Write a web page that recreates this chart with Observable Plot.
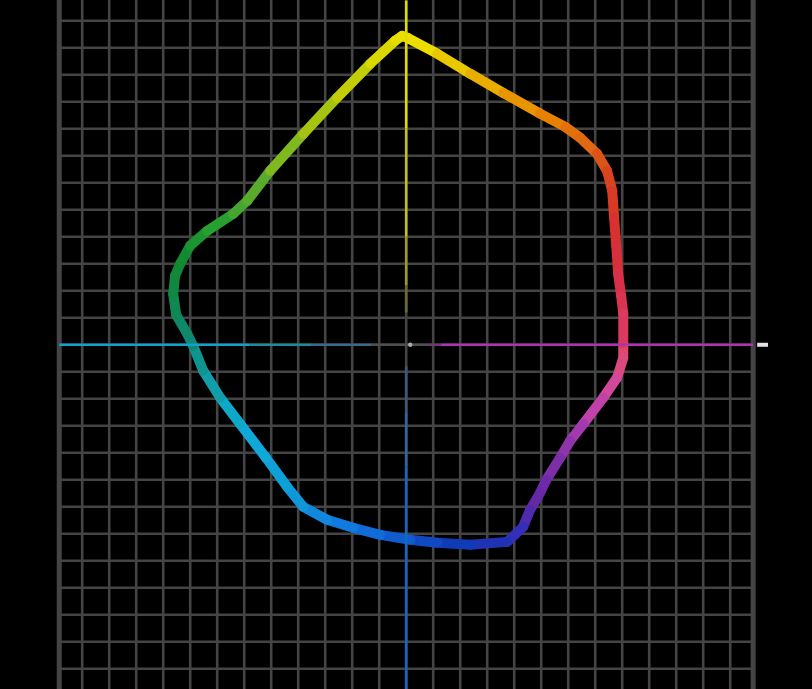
<!DOCTYPE html>
<html>
<head>
<meta charset="utf-8">
<script src="https://cdn.jsdelivr.net/npm/d3@7"></script>
<script src="https://cdn.jsdelivr.net/npm/@observablehq/plot@0.6"></script>
<style>
  html, body { margin: 0; padding: 0; background: #000; }
  #chart svg { display: block; }
</style>
</head>
<body>
<div id="chart"></div>
<script>
// Gamut boundary in the a*/b* plane
const loopA = [80.4, 80.4, 78.1, 73.0, 65.6, 60.7, 57.0, 51.9, 49.6, 45.9, 43.3, 37.4, 23.7, 11.5, 1.5, -9.6, -19.6, -29.3, -38.1, -44.1, -51.9, -61.5, -68.9, -75.2, -78.9, -81.1, -85.2, -86.3, -85.6, -83.7, -80.0, -73.7, -64.1, -58.9, -50.4, -38.1, -25.6, -13.3, -4.1, -1.5, 0.4, 11.5, 23.7, 35.9, 49.6, 58.9, 64.4, 70.7, 74.4, 76.3, 77.0, 77.8, 78.5, 79.6, 80.4];
const loopB = [0.4, -4.8, -12.2, -19.6, -29.3, -35.6, -41.9, -50.0, -54.8, -61.1, -67.4, -73.0, -74.1, -73.3, -72.2, -70.4, -67.8, -64.8, -60.0, -52.6, -41.9, -29.3, -19.6, -9.6, -0.4, 4.1, 11.1, 18.9, 25.6, 30.0, 36.7, 42.2, 48.5, 53.3, 64.4, 78.1, 91.5, 104.1, 112.6, 114.4, 113.7, 107.8, 100.4, 93.3, 85.6, 80.7, 76.7, 70.7, 64.4, 57.0, 47.0, 36.7, 26.3, 18.1, 11.5];

// hue angle (degrees) -> colour stops
const hueStops  = [0, 8, 18, 31, 40, 50, 60, 70, 80, 90, 100, 115, 128, 140, 150, 160, 170, 180, 190, 205, 220, 235, 250, 265, 280, 292, 302, 310, 325, 340, 350, 360];
const hueColors = ["#e04a6c", "#da3a5c", "#d8304a", "#d83030", "#d84020", "#e06810", "#e88000", "#e89800", "#e8b800", "#ece000", "#d0d400", "#a8c410", "#80b820", "#50a830", "#28a030", "#128a30", "#108848", "#108878", "#109898", "#10a8c8", "#10a8d8", "#109cd8", "#1080e0", "#1068d8", "#1048c0", "#1034b0", "#3030b8", "#6028a8", "#8030a8", "#b03cb0", "#d048a0", "#e04a6c"];

// grid / frame
const gridTicks = d3.range(-120, 121, 10);
const frameLimits = [-128.5, 128.5];
const yEdges = [-127.67, 127.5];
const xEdges = [-150.26, 150.48];

const n = loopA.length;
const hue = (a, b) => { let h = Math.atan2(b, a) * 180 / Math.PI; return h < 0 ? h + 360 : h; };
const segs = d3.range(n).map(i => {
  const j = (i + 1) % n;
  return {x1: loopA[i], y1: loopB[i], x2: loopA[j], y2: loopB[j], h: hue(loopA[i], loopB[i])};
});

const seg = (x1, y1, x2, y2) => [{x1, y1, x2, y2}];

const chart = Plot.plot({
  width: 812,
  height: 689,
  margin: 0,
  style: {background: "#000"},
  x: {domain: xEdges, axis: null},
  y: {domain: yEdges, axis: null},
  color: {type: "linear", domain: hueStops, range: hueColors, interpolate: "rgb"},
  marks: [
    Plot.ruleX(gridTicks, {stroke: "#444444", strokeWidth: 2.6}),
    Plot.ruleX(frameLimits, {stroke: "#444444", strokeWidth: 5}),
    Plot.ruleY(gridTicks, {x1: frameLimits[0], x2: frameLimits[1], stroke: "#444444", strokeWidth: 2.6}),
    // gamut loop
    Plot.link(segs, {x1: "x1", y1: "y1", x2: "x2", y2: "y2", stroke: "h", strokeWidth: 10, strokeLinecap: "round", strokeLinejoin: "round"}),
    // horizontal axis (a*)
    Plot.link(seg(-128.5, 0, -58, 0), {x1: "x1", y1: "y1", x2: "x2", y2: "y2", stroke: "#12a0cc", strokeWidth: 2.6}),
    Plot.link(seg(-58, 0, -35, 0), {x1: "x1", y1: "y1", x2: "x2", y2: "y2", stroke: "#1a8c9c", strokeWidth: 2.6}),
    Plot.link(seg(-35, 0, -13, 0), {x1: "x1", y1: "y1", x2: "x2", y2: "y2", stroke: "#3a6a88", strokeWidth: 2.6}),
    Plot.link(seg(-13, 0, 8, 0), {x1: "x1", y1: "y1", x2: "x2", y2: "y2", stroke: "#4e4e4e", strokeWidth: 2.6}),
    Plot.link(seg(8, 0, 13, 0), {x1: "x1", y1: "y1", x2: "x2", y2: "y2", stroke: "#6a3a6a", strokeWidth: 2.6}),
    Plot.link(seg(13, 0, 128.5, 0), {x1: "x1", y1: "y1", x2: "x2", y2: "y2", stroke: "#b032b4", strokeWidth: 2.6}),
    // vertical axis (b*)
    Plot.link(seg(0, 127.5, 0, 80), {x1: "x1", y1: "y1", x2: "x2", y2: "y2", stroke: "#e0dc00", strokeWidth: 2.6}),
    Plot.link(seg(0, 80, 0, 40), {x1: "x1", y1: "y1", x2: "x2", y2: "y2", stroke: "#c4c018", strokeWidth: 2.6}),
    Plot.link(seg(0, 40, 0, 22), {x1: "x1", y1: "y1", x2: "x2", y2: "y2", stroke: "#9a9a28", strokeWidth: 2.6}),
    Plot.link(seg(0, 22, 0, 12), {x1: "x1", y1: "y1", x2: "x2", y2: "y2", stroke: "#6a6a38", strokeWidth: 2.6}),
    Plot.link(seg(0, -8, 0, -25), {x1: "x1", y1: "y1", x2: "x2", y2: "y2", stroke: "#405878", strokeWidth: 2.6}),
    Plot.link(seg(0, -25, 0, -45), {x1: "x1", y1: "y1", x2: "x2", y2: "y2", stroke: "#2e68a0", strokeWidth: 2.6}),
    Plot.link(seg(0, -45, 0, -127.67), {x1: "x1", y1: "y1", x2: "x2", y2: "y2", stroke: "#1468c4", strokeWidth: 2.6}),
    // centre dot and right marker
    Plot.dot([{a: 1.5, b: 0}], {x: "a", y: "b", r: 2.2, fill: "#aaaaaa", stroke: null}),
    Plot.link(seg(130, 0, 134, 0), {x1: "x1", y1: "y1", x2: "x2", y2: "y2", stroke: "#e4e4e4", strokeWidth: 4})
  ]
});
document.getElementById("chart").appendChild(chart);
</script>
</body>
</html>
